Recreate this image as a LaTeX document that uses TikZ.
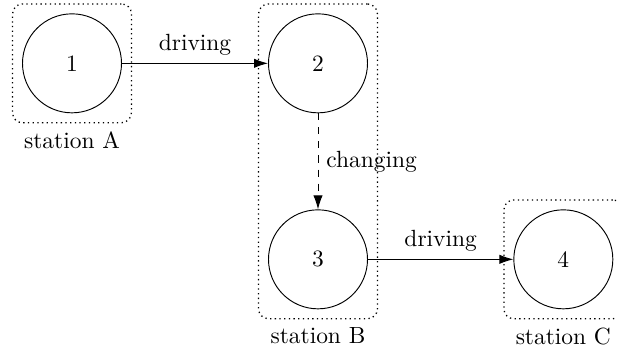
\documentclass[tikz,border=0pt]{standalone}
\usetikzlibrary{fit,arrows.meta}

\tikzstyle{stop}=[draw,shape=circle,minimum size=14.85mm,inner sep=0pt]
\tikzstyle{station}=[draw,line width=0.55pt,dash pattern=on 0.55pt off 1.45pt,rounded corners=1.5mm,inner sep=1.42mm]
\tikzstyle{move}=[-{Latex[length=2.1mm,width=1.4mm]}]

\begin{document}
\begin{tikzpicture}
\useasboundingbox (0,0) rectangle (9.255,-5.28);
\node[stop] at (1.08,-0.95) (s1) {1};
\node[stop] at (4.77,-0.95) (s2) {2};
\node[stop] at (4.77,-3.89) (s3) {3};
\node[stop] at (8.45,-3.89) (s4) {4};
\node[station, fit=(s1)]      (sta-a) {};
\node[station, fit=(s2) (s3)] (sta-b) {};
\node[station, fit=(s4)]      (sta-c) {};
\node[below] at (sta-a.south) (name-a) {station A};
\node[below] at (sta-b.south) (name-b) {station B};
\node[below] at (sta-c.south) (name-c) {station C};
\draw[move] (s1) -- node[above] {driving} (s2);
\draw[move, dashed] (s2) -- node[right] {changing} (s3);
\draw[move] (s3) -- node[above] {driving} (s4);
\end{tikzpicture}
\end{document}
